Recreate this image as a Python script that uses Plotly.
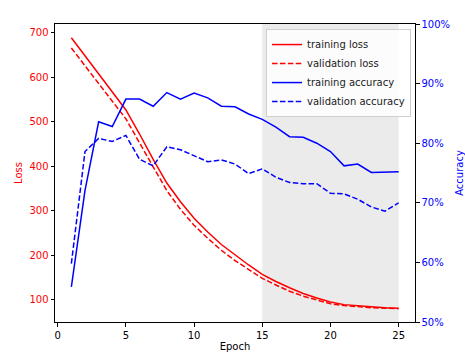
import plotly.graph_objects as go

epochs = list(range(1, 26))
train_loss = [688, 648, 608, 568, 526, 472, 415, 362, 320, 283, 252, 224, 200, 178, 157,
              141, 127, 114, 104, 95, 89, 86, 84, 82, 81]
val_loss = [665, 625, 586, 547, 506, 452, 397, 345, 303, 267, 238, 211, 188, 167, 148,
            133, 119, 108, 99, 91, 87, 84, 82, 81, 80]
train_acc = [55.9, 72.1, 83.6, 82.8, 87.4, 87.4, 86.2, 88.5, 87.4, 88.4, 87.6, 86.2, 86.1,
             84.9, 84.0, 82.7, 81.1, 81.0, 80.0, 78.6, 76.2, 76.5, 75.1, 75.1, 75.2]
val_acc = [59.8, 78.6, 80.8, 80.3, 81.3, 77.3, 76.2, 79.4, 78.9, 77.9, 76.9, 77.2, 76.5,
           74.9, 75.7, 74.3, 73.4, 73.2, 73.2, 71.6, 71.5, 70.6, 69.3, 68.6, 70.0]
train_acc = [v / 100 for v in train_acc]
val_acc = [v / 100 for v in val_acc]

x_ticks = [0, 5, 10, 15, 20, 25]
loss_ticks = [100, 200, 300, 400, 500, 600, 700]
acc_ticks = [0.5, 0.6, 0.7, 0.8, 0.9, 1.0]
shade_start, shade_end = 15, 25

RED = "#ff0000"
BLUE = "#0000ff"
DASH = "5.5px,2.4px"

fig = go.Figure()
fig.add_trace(go.Scatter(x=epochs, y=train_loss, name="training loss", mode="lines",
                         line=dict(color=RED, width=1.5)))
fig.add_trace(go.Scatter(x=epochs, y=val_loss, name="validation loss", mode="lines",
                         line=dict(color=RED, width=1.5, dash=DASH)))
fig.add_trace(go.Scatter(x=epochs, y=train_acc, name="training accuracy", mode="lines",
                         line=dict(color=BLUE, width=1.5), yaxis="y2"))
fig.add_trace(go.Scatter(x=epochs, y=val_acc, name="validation accuracy", mode="lines",
                         line=dict(color=BLUE, width=1.5, dash=DASH), yaxis="y2"))

fig.add_vrect(x0=shade_start, x1=shade_end, fillcolor="#ebebeb", opacity=1,
              line_width=0, layer="below")

font = "DejaVu Sans"
fig.update_layout(
    width=465, height=358,
    margin=dict(l=55, r=50, t=24, b=36, autoexpand=False),
    paper_bgcolor="white", plot_bgcolor="white",
    font=dict(family=font, size=10, color="black"),
    hovermode=False,
    showlegend=True,
    legend=dict(x=0.989, y=0.983, xanchor="right", yanchor="top",
                bgcolor="rgba(255,255,255,0.85)", bordercolor="#d0d0d0", borderwidth=1,
                font=dict(size=10, color="#222222"), tracegroupgap=0,
                itemwidth=30),
    xaxis=dict(range=[-0.2, 26.2], tickvals=x_ticks, showgrid=False, zeroline=False,
               automargin=False,
               showline=True, linecolor="black", linewidth=1, mirror=True,
               ticks="outside", ticklen=3.5, tickcolor="black",
               title=dict(text="Epoch", standoff=3, font=dict(size=10))),
    yaxis=dict(range=[50, 719], tickvals=loss_ticks, showgrid=False, zeroline=False,
               automargin=False,
               showline=True, linecolor="black", linewidth=1,
               ticks="outside", ticklen=3.5, tickcolor="black",
               tickfont=dict(color=RED),
               title=dict(text="Loss", standoff=4, font=dict(color=RED, size=10))),
    yaxis2=dict(range=[0.5, 1.0], tickvals=acc_ticks, tickformat=".0%", overlaying="y",
                side="right", showgrid=False, zeroline=False, automargin=False,
                showline=True, linecolor="black", linewidth=1,
                ticks="outside", ticklen=3.5, tickcolor="black",
                tickfont=dict(color=BLUE),
                title=dict(text="Accuracy", standoff=8, font=dict(color=BLUE, size=10))),
)

fig.write_html("out.html", config={"displayModeBar": False},
               post_script="document.body.style.margin='0';")
